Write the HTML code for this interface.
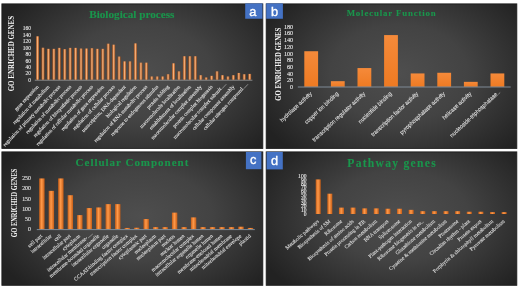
<!DOCTYPE html>
<html><head><meta charset="utf-8"><style>
html,body{margin:0;padding:0;background:#fff;}
body{width:520px;height:288px;overflow:hidden;font-family:"Liberation Sans",sans-serif;}
svg{display:block;will-change:transform;}
</style></head><body>
<svg width="520" height="288" viewBox="0 0 520 288">
<defs>
<radialGradient id="bg" cx="0.53" cy="0.48" r="0.5" gradientTransform="translate(0.53 0.48) scale(1.22 1.5) translate(-0.53 -0.48)">
  <stop offset="0" stop-color="#4e4e4e"/>
  <stop offset="0.45" stop-color="#434343"/>
  <stop offset="1" stop-color="#222222"/>
</radialGradient>
<linearGradient id="cyl" x1="0" x2="1" y1="0" y2="0">
  <stop offset="0" stop-color="#8e4516"/>
  <stop offset="0.5" stop-color="#f6b07a"/>
  <stop offset="1" stop-color="#9a4c1a"/>
</linearGradient>
<linearGradient id="cyl2" x1="0" x2="1" y1="0" y2="0">
  <stop offset="0" stop-color="#c65d16"/>
  <stop offset="0.45" stop-color="#ff9a4a"/>
  <stop offset="1" stop-color="#c65d16"/>
</linearGradient>
<linearGradient id="flat" x1="0" x2="0" y1="0" y2="1">
  <stop offset="0" stop-color="#f58a3a"/>
  <stop offset="1" stop-color="#ee7a22"/>
</linearGradient>
</defs>
<rect x="1.9" y="3.9" width="260.9" height="144.5" fill="url(#bg)" stroke="#1c1c1c" stroke-width="0.9"/>
<rect x="266.2" y="3.9" width="250.6" height="144.5" fill="url(#bg)" stroke="#1c1c1c" stroke-width="0.9"/>
<rect x="1.9" y="151.9" width="260.9" height="133.4" fill="url(#bg)" stroke="#1c1c1c" stroke-width="0.9"/>
<rect x="266.2" y="151.9" width="250.6" height="133.4" fill="url(#bg)" stroke="#1c1c1c" stroke-width="0.9"/>
<rect x="245.2" y="3.4" width="17.3" height="15.35" fill="#4472c4"/>
<text x="252.85" y="15.6" font-family="Liberation Sans" font-size="12.8" fill="#fff" stroke="#fff" stroke-width="0.35" text-anchor="middle">a</text>
<rect x="266.2" y="3.4" width="16.7" height="15.35" fill="#4472c4"/>
<text x="274.5" y="15.6" font-family="Liberation Sans" font-size="12.8" fill="#fff" stroke="#fff" stroke-width="0.35" text-anchor="middle">b</text>
<rect x="245.9" y="151.9" width="15.5" height="17.3" fill="#4472c4"/>
<text x="253.2" y="164.1" font-family="Liberation Sans" font-size="12.8" fill="#fff" stroke="#fff" stroke-width="0.35" text-anchor="middle">c</text>
<rect x="266.6" y="151.9" width="16.2" height="17.5" fill="#4472c4"/>
<text x="274.6" y="164.9" font-family="Liberation Sans" font-size="12.8" fill="#fff" stroke="#fff" stroke-width="0.35" text-anchor="middle">d</text>
<text x="89.2" y="18.0" font-family="Liberation Serif" font-weight="bold" font-size="11.2" letter-spacing="0" fill="#1a964c" stroke="#1a964c" stroke-width="0.12">Biological process</text>
<text x="346.7" y="16.2" font-family="Liberation Serif" font-weight="bold" font-size="8.8" letter-spacing="0.86" fill="#1a964c" stroke="#1a964c" stroke-width="0.12">Molecular Function</text>
<text x="75.6" y="166.0" font-family="Liberation Serif" font-weight="bold" font-size="11.0" letter-spacing="0.98" fill="#1a964c" stroke="#1a964c" stroke-width="0.12">Cellular Component</text>
<text x="347.3" y="167.0" font-family="Liberation Serif" font-weight="bold" font-size="11.6" letter-spacing="1.27" fill="#1a964c" stroke="#1a964c" stroke-width="0.12">Pathway genes</text>
<text transform="translate(11.4,53.65) rotate(-90) scale(0.893,1)" font-family="Liberation Serif" font-weight="bold" font-size="7.8" fill="#f7f7f7" text-anchor="middle" dominant-baseline="central">GO ENRICHED GENES</text>
<text transform="translate(279.3,64.15) rotate(-90) scale(0.865,1)" font-family="Liberation Serif" font-weight="bold" font-size="7.8" fill="#f7f7f7" text-anchor="middle" dominant-baseline="central">GO ENRICHED GENES</text>
<text transform="translate(14.4,203.1) rotate(-90) scale(0.833,1)" font-family="Liberation Serif" font-weight="bold" font-size="7.6" fill="#f7f7f7" text-anchor="middle" dominant-baseline="central">GO ENRICHED GENES</text>
<text x="31.0" y="81.82" font-family="Liberation Serif" font-size="5.5" fill="#eeeeee" stroke="#eeeeee" stroke-width="0.08" text-anchor="end">0</text>
<text x="31.0" y="75.39" font-family="Liberation Serif" font-size="5.5" fill="#eeeeee" stroke="#eeeeee" stroke-width="0.08" text-anchor="end">20</text>
<text x="31.0" y="68.96" font-family="Liberation Serif" font-size="5.5" fill="#eeeeee" stroke="#eeeeee" stroke-width="0.08" text-anchor="end">40</text>
<text x="31.0" y="62.53" font-family="Liberation Serif" font-size="5.5" fill="#eeeeee" stroke="#eeeeee" stroke-width="0.08" text-anchor="end">60</text>
<text x="31.0" y="56.10" font-family="Liberation Serif" font-size="5.5" fill="#eeeeee" stroke="#eeeeee" stroke-width="0.08" text-anchor="end">80</text>
<text x="31.0" y="49.67" font-family="Liberation Serif" font-size="5.5" fill="#eeeeee" stroke="#eeeeee" stroke-width="0.08" text-anchor="end">100</text>
<text x="31.0" y="43.24" font-family="Liberation Serif" font-size="5.5" fill="#eeeeee" stroke="#eeeeee" stroke-width="0.08" text-anchor="end">120</text>
<text x="31.0" y="36.81" font-family="Liberation Serif" font-size="5.5" fill="#eeeeee" stroke="#eeeeee" stroke-width="0.08" text-anchor="end">140</text>
<text x="31.0" y="30.38" font-family="Liberation Serif" font-size="5.5" fill="#eeeeee" stroke="#eeeeee" stroke-width="0.08" text-anchor="end">160</text>
<text x="293.2" y="89.01" font-family="Liberation Serif" font-size="6.2" fill="#eeeeee" stroke="#eeeeee" stroke-width="0.08" text-anchor="end">0</text>
<text x="293.2" y="82.31" font-family="Liberation Serif" font-size="6.2" fill="#eeeeee" stroke="#eeeeee" stroke-width="0.08" text-anchor="end">20</text>
<text x="293.2" y="75.61" font-family="Liberation Serif" font-size="6.2" fill="#eeeeee" stroke="#eeeeee" stroke-width="0.08" text-anchor="end">40</text>
<text x="293.2" y="68.91" font-family="Liberation Serif" font-size="6.2" fill="#eeeeee" stroke="#eeeeee" stroke-width="0.08" text-anchor="end">60</text>
<text x="293.2" y="62.21" font-family="Liberation Serif" font-size="6.2" fill="#eeeeee" stroke="#eeeeee" stroke-width="0.08" text-anchor="end">80</text>
<text x="293.2" y="55.51" font-family="Liberation Serif" font-size="6.2" fill="#eeeeee" stroke="#eeeeee" stroke-width="0.08" text-anchor="end">100</text>
<text x="293.2" y="48.81" font-family="Liberation Serif" font-size="6.2" fill="#eeeeee" stroke="#eeeeee" stroke-width="0.08" text-anchor="end">120</text>
<text x="293.2" y="42.11" font-family="Liberation Serif" font-size="6.2" fill="#eeeeee" stroke="#eeeeee" stroke-width="0.08" text-anchor="end">140</text>
<text x="293.2" y="35.41" font-family="Liberation Serif" font-size="6.2" fill="#eeeeee" stroke="#eeeeee" stroke-width="0.08" text-anchor="end">160</text>
<text x="293.2" y="28.71" font-family="Liberation Serif" font-size="6.2" fill="#eeeeee" stroke="#eeeeee" stroke-width="0.08" text-anchor="end">180</text>
<text x="31.0" y="231.41" font-family="Liberation Serif" font-size="5.9" fill="#eeeeee" stroke="#eeeeee" stroke-width="0.08" text-anchor="end">0</text>
<text x="31.0" y="221.11" font-family="Liberation Serif" font-size="5.9" fill="#eeeeee" stroke="#eeeeee" stroke-width="0.08" text-anchor="end">50</text>
<text x="31.0" y="210.81" font-family="Liberation Serif" font-size="5.9" fill="#eeeeee" stroke="#eeeeee" stroke-width="0.08" text-anchor="end">100</text>
<text x="31.0" y="200.51" font-family="Liberation Serif" font-size="5.9" fill="#eeeeee" stroke="#eeeeee" stroke-width="0.08" text-anchor="end">150</text>
<text x="31.0" y="190.21" font-family="Liberation Serif" font-size="5.9" fill="#eeeeee" stroke="#eeeeee" stroke-width="0.08" text-anchor="end">200</text>
<text x="31.0" y="179.91" font-family="Liberation Serif" font-size="5.9" fill="#eeeeee" stroke="#eeeeee" stroke-width="0.08" text-anchor="end">250</text>
<text x="306.5" y="216.00" font-family="Liberation Serif" font-size="5.6" fill="#eeeeee" stroke="#eeeeee" stroke-width="0.08" text-anchor="end">0</text>
<text x="306.5" y="212.21" font-family="Liberation Serif" font-size="5.6" fill="#eeeeee" stroke="#eeeeee" stroke-width="0.08" text-anchor="end">10</text>
<text x="306.5" y="208.42" font-family="Liberation Serif" font-size="5.6" fill="#eeeeee" stroke="#eeeeee" stroke-width="0.08" text-anchor="end">20</text>
<text x="306.5" y="204.63" font-family="Liberation Serif" font-size="5.6" fill="#eeeeee" stroke="#eeeeee" stroke-width="0.08" text-anchor="end">30</text>
<text x="306.5" y="200.84" font-family="Liberation Serif" font-size="5.6" fill="#eeeeee" stroke="#eeeeee" stroke-width="0.08" text-anchor="end">40</text>
<text x="306.5" y="197.05" font-family="Liberation Serif" font-size="5.6" fill="#eeeeee" stroke="#eeeeee" stroke-width="0.08" text-anchor="end">50</text>
<text x="306.5" y="193.26" font-family="Liberation Serif" font-size="5.6" fill="#eeeeee" stroke="#eeeeee" stroke-width="0.08" text-anchor="end">60</text>
<text x="306.5" y="189.47" font-family="Liberation Serif" font-size="5.6" fill="#eeeeee" stroke="#eeeeee" stroke-width="0.08" text-anchor="end">70</text>
<text x="306.5" y="185.68" font-family="Liberation Serif" font-size="5.6" fill="#eeeeee" stroke="#eeeeee" stroke-width="0.08" text-anchor="end">80</text>
<text x="306.5" y="181.89" font-family="Liberation Serif" font-size="5.6" fill="#eeeeee" stroke="#eeeeee" stroke-width="0.08" text-anchor="end">90</text>
<text x="306.5" y="178.10" font-family="Liberation Serif" font-size="5.6" fill="#eeeeee" stroke="#eeeeee" stroke-width="0.08" text-anchor="end">100</text>
<line x1="34.8" x2="252.4" y1="80.2" y2="80.2" stroke="#8c8c8c" stroke-width="1"/>
<rect x="36.00" y="36.30" width="3.0" height="43.40" fill="url(#cyl)"/>
<rect x="41.44" y="47.71" width="3.0" height="31.99" fill="url(#cyl)"/>
<rect x="46.88" y="48.84" width="3.0" height="30.86" fill="url(#cyl)"/>
<rect x="52.32" y="48.84" width="3.0" height="30.86" fill="url(#cyl)"/>
<rect x="57.76" y="47.87" width="3.0" height="31.83" fill="url(#cyl)"/>
<rect x="63.20" y="49.16" width="3.0" height="30.54" fill="url(#cyl)"/>
<rect x="68.64" y="47.87" width="3.0" height="31.83" fill="url(#cyl)"/>
<rect x="74.08" y="47.87" width="3.0" height="31.83" fill="url(#cyl)"/>
<rect x="79.52" y="48.51" width="3.0" height="31.19" fill="url(#cyl)"/>
<rect x="84.96" y="48.51" width="3.0" height="31.19" fill="url(#cyl)"/>
<rect x="90.40" y="48.19" width="3.0" height="31.51" fill="url(#cyl)"/>
<rect x="95.84" y="48.84" width="3.0" height="30.86" fill="url(#cyl)"/>
<rect x="101.28" y="48.84" width="3.0" height="30.86" fill="url(#cyl)"/>
<rect x="106.72" y="43.69" width="3.0" height="36.01" fill="url(#cyl)"/>
<rect x="112.16" y="44.66" width="3.0" height="35.04" fill="url(#cyl)"/>
<rect x="117.60" y="56.55" width="3.0" height="23.15" fill="url(#cyl)"/>
<rect x="123.04" y="61.37" width="3.0" height="18.33" fill="url(#cyl)"/>
<rect x="128.48" y="61.37" width="3.0" height="18.33" fill="url(#cyl)"/>
<rect x="133.92" y="43.37" width="3.0" height="36.33" fill="url(#cyl)"/>
<rect x="139.36" y="62.66" width="3.0" height="17.04" fill="url(#cyl)"/>
<rect x="144.80" y="62.66" width="3.0" height="17.04" fill="url(#cyl)"/>
<rect x="150.24" y="76.48" width="3.0" height="3.21" fill="url(#cyl)"/>
<rect x="155.68" y="76.48" width="3.0" height="3.21" fill="url(#cyl)"/>
<rect x="161.12" y="76.48" width="3.0" height="3.21" fill="url(#cyl)"/>
<rect x="166.56" y="74.23" width="3.0" height="5.47" fill="url(#cyl)"/>
<rect x="172.00" y="63.30" width="3.0" height="16.40" fill="url(#cyl)"/>
<rect x="177.44" y="71.34" width="3.0" height="8.36" fill="url(#cyl)"/>
<rect x="182.88" y="56.23" width="3.0" height="23.47" fill="url(#cyl)"/>
<rect x="188.32" y="56.23" width="3.0" height="23.47" fill="url(#cyl)"/>
<rect x="193.76" y="56.23" width="3.0" height="23.47" fill="url(#cyl)"/>
<rect x="199.20" y="75.20" width="3.0" height="4.50" fill="url(#cyl)"/>
<rect x="204.64" y="77.45" width="3.0" height="2.25" fill="url(#cyl)"/>
<rect x="210.08" y="75.84" width="3.0" height="3.86" fill="url(#cyl)"/>
<rect x="215.52" y="71.34" width="3.0" height="8.36" fill="url(#cyl)"/>
<rect x="220.96" y="75.20" width="3.0" height="4.50" fill="url(#cyl)"/>
<rect x="226.40" y="76.48" width="3.0" height="3.21" fill="url(#cyl)"/>
<rect x="231.84" y="75.20" width="3.0" height="4.50" fill="url(#cyl)"/>
<rect x="237.28" y="72.95" width="3.0" height="6.75" fill="url(#cyl)"/>
<rect x="242.72" y="74.23" width="3.0" height="5.47" fill="url(#cyl)"/>
<rect x="248.16" y="73.91" width="3.0" height="5.79" fill="url(#cyl)"/>
<text transform="translate(38.90,87.10) rotate(-47) scale(1.0,1)" font-family="Liberation Serif" font-size="5.1" fill="#ececec" stroke="#ececec" stroke-width="0.09" text-anchor="end">gene expression</text>
<text transform="translate(49.78,87.10) rotate(-47) scale(1.0,1)" font-family="Liberation Serif" font-size="5.1" fill="#ececec" stroke="#ececec" stroke-width="0.09" text-anchor="end">regulation of metabolism</text>
<text transform="translate(60.66,87.10) rotate(-47) scale(1.0,1)" font-family="Liberation Serif" font-size="5.1" fill="#ececec" stroke="#ececec" stroke-width="0.09" text-anchor="end">regulation of primary metabolic process</text>
<text transform="translate(71.54,87.10) rotate(-47) scale(1.0,1)" font-family="Liberation Serif" font-size="5.1" fill="#ececec" stroke="#ececec" stroke-width="0.09" text-anchor="end">regulation of metabolic process</text>
<text transform="translate(82.42,87.10) rotate(-47) scale(1.0,1)" font-family="Liberation Serif" font-size="5.1" fill="#ececec" stroke="#ececec" stroke-width="0.09" text-anchor="end">regulation of biosynthetic process</text>
<text transform="translate(93.30,87.10) rotate(-47) scale(1.0,1)" font-family="Liberation Serif" font-size="5.1" fill="#ececec" stroke="#ececec" stroke-width="0.09" text-anchor="end">regulation of cellular metabolic process</text>
<text transform="translate(104.18,87.10) rotate(-47) scale(1.0,1)" font-family="Liberation Serif" font-size="5.1" fill="#ececec" stroke="#ececec" stroke-width="0.09" text-anchor="end">regulation of gene expression</text>
<text transform="translate(115.06,87.10) rotate(-47) scale(1.0,1)" font-family="Liberation Serif" font-size="5.1" fill="#ececec" stroke="#ececec" stroke-width="0.09" text-anchor="end">regulation of cellular process</text>
<text transform="translate(125.94,87.10) rotate(-47) scale(1.0,1)" font-family="Liberation Serif" font-size="5.1" fill="#ececec" stroke="#ececec" stroke-width="0.09" text-anchor="end">transcription, DNA-dependent</text>
<text transform="translate(136.82,87.10) rotate(-47) scale(1.0,1)" font-family="Liberation Serif" font-size="5.1" fill="#ececec" stroke="#ececec" stroke-width="0.09" text-anchor="end">biological regulation</text>
<text transform="translate(147.70,87.10) rotate(-47) scale(1.0,1)" font-family="Liberation Serif" font-size="5.1" fill="#ececec" stroke="#ececec" stroke-width="0.09" text-anchor="end">regulation of RNA metabolic process</text>
<text transform="translate(158.58,87.10) rotate(-47) scale(1.0,1)" font-family="Liberation Serif" font-size="5.1" fill="#ececec" stroke="#ececec" stroke-width="0.09" text-anchor="end">response to endogenous stimulus</text>
<text transform="translate(169.46,87.10) rotate(-47) scale(1.0,1)" font-family="Liberation Serif" font-size="5.1" fill="#ececec" stroke="#ececec" stroke-width="0.09" text-anchor="end">protein folding</text>
<text transform="translate(180.34,87.10) rotate(-47) scale(1.0,1)" font-family="Liberation Serif" font-size="5.1" fill="#ececec" stroke="#ececec" stroke-width="0.09" text-anchor="end">macromolecule localization</text>
<text transform="translate(191.22,87.10) rotate(-47) scale(1.0,1)" font-family="Liberation Serif" font-size="5.1" fill="#ececec" stroke="#ececec" stroke-width="0.09" text-anchor="end">establishment of localization</text>
<text transform="translate(202.10,87.10) rotate(-47) scale(1.0,1)" font-family="Liberation Serif" font-size="5.1" fill="#ececec" stroke="#ececec" stroke-width="0.09" text-anchor="end">macromolecular complex assembly</text>
<text transform="translate(212.98,87.10) rotate(-47) scale(1.0,1)" font-family="Liberation Serif" font-size="5.1" fill="#ececec" stroke="#ececec" stroke-width="0.09" text-anchor="end">protein complex biogenesis</text>
<text transform="translate(221.81,89.29) rotate(-47) scale(1.0,1)" font-family="Liberation Serif" font-size="5.1" fill="#ececec" stroke="#ececec" stroke-width="0.09" text-anchor="end">macromolecular complex subunit</text>
<line x1="222.09" y1="88.70" x2="226.25" y2="84.24" stroke="#cfcfcf" stroke-width="0.55"/>
<text transform="translate(234.74,87.10) rotate(-47) scale(1.0,1)" font-family="Liberation Serif" font-size="5.1" fill="#ececec" stroke="#ececec" stroke-width="0.09" text-anchor="end">cellular component assembly</text>
<text transform="translate(243.57,89.29) rotate(-47) scale(1.0,1)" font-family="Liberation Serif" font-size="5.1" fill="#ececec" stroke="#ececec" stroke-width="0.09" text-anchor="end">cellular nitrogen compound</text>
<line x1="243.85" y1="88.70" x2="248.01" y2="84.24" stroke="#cfcfcf" stroke-width="0.55"/>
<rect x="304.30" y="51.23" width="13.8" height="35.67" fill="url(#flat)"/>
<rect x="330.90" y="81.18" width="13.8" height="5.72" fill="url(#flat)"/>
<rect x="357.50" y="68.06" width="13.8" height="18.84" fill="url(#flat)"/>
<rect x="384.10" y="35.08" width="13.8" height="51.82" fill="url(#flat)"/>
<rect x="410.70" y="73.44" width="13.8" height="13.46" fill="url(#flat)"/>
<rect x="437.30" y="72.77" width="13.8" height="14.13" fill="url(#flat)"/>
<rect x="463.90" y="81.85" width="13.8" height="5.05" fill="url(#flat)"/>
<rect x="490.50" y="73.44" width="13.8" height="13.46" fill="url(#flat)"/>
<line x1="297.8" x2="510.7" y1="87.0" y2="87.0" stroke="#7f8a96" stroke-width="1"/>
<text transform="translate(312.40,94.30) rotate(-43) scale(0.9,1)" font-family="Liberation Sans" font-size="6.0" fill="#ececec" stroke="#ececec" stroke-width="0.05" text-anchor="end">hydrolase activity</text>
<text transform="translate(339.00,94.30) rotate(-43) scale(0.9,1)" font-family="Liberation Sans" font-size="6.0" fill="#ececec" stroke="#ececec" stroke-width="0.05" text-anchor="end">copper ion binding</text>
<text transform="translate(365.60,94.30) rotate(-43) scale(0.9,1)" font-family="Liberation Sans" font-size="6.0" fill="#ececec" stroke="#ececec" stroke-width="0.05" text-anchor="end">transcription regulator activity</text>
<text transform="translate(392.20,94.30) rotate(-43) scale(0.9,1)" font-family="Liberation Sans" font-size="6.0" fill="#ececec" stroke="#ececec" stroke-width="0.05" text-anchor="end">nucleotide binding</text>
<text transform="translate(418.80,94.30) rotate(-43) scale(0.9,1)" font-family="Liberation Sans" font-size="6.0" fill="#ececec" stroke="#ececec" stroke-width="0.05" text-anchor="end">transcription factor activity</text>
<text transform="translate(445.40,94.30) rotate(-43) scale(0.9,1)" font-family="Liberation Sans" font-size="6.0" fill="#ececec" stroke="#ececec" stroke-width="0.05" text-anchor="end">pyrophosphatase activity</text>
<text transform="translate(472.00,94.30) rotate(-43) scale(0.9,1)" font-family="Liberation Sans" font-size="6.0" fill="#ececec" stroke="#ececec" stroke-width="0.05" text-anchor="end">helicase activity</text>
<text transform="translate(498.01,94.85) rotate(-43) scale(0.9,1)" font-family="Liberation Sans" font-size="6.0" fill="#ececec" stroke="#ececec" stroke-width="0.05" text-anchor="end">nucleoside-triphosphatase</text>
<line x1="498.31" y1="94.27" x2="500.21" y2="92.50" stroke="#cfcfcf" stroke-width="0.55"/>
<rect x="39.20" y="178.43" width="5.4" height="50.97" fill="url(#cyl2)"/>
<rect x="48.68" y="190.86" width="5.4" height="38.54" fill="url(#cyl2)"/>
<rect x="58.16" y="178.43" width="5.4" height="50.97" fill="url(#cyl2)"/>
<rect x="67.64" y="195.21" width="5.4" height="34.19" fill="url(#cyl2)"/>
<rect x="77.12" y="215.10" width="5.4" height="14.30" fill="url(#cyl2)"/>
<rect x="86.60" y="208.06" width="5.4" height="21.34" fill="url(#cyl2)"/>
<rect x="96.08" y="207.44" width="5.4" height="21.96" fill="url(#cyl2)"/>
<rect x="105.56" y="204.12" width="5.4" height="25.28" fill="url(#cyl2)"/>
<rect x="115.04" y="204.12" width="5.4" height="25.28" fill="url(#cyl2)"/>
<rect x="124.52" y="227.95" width="5.4" height="1.45" fill="url(#cyl2)"/>
<rect x="134.00" y="227.74" width="5.4" height="1.66" fill="url(#cyl2)"/>
<rect x="143.48" y="219.04" width="5.4" height="10.36" fill="url(#cyl2)"/>
<rect x="152.96" y="227.12" width="5.4" height="2.28" fill="url(#cyl2)"/>
<rect x="162.44" y="227.12" width="5.4" height="2.28" fill="url(#cyl2)"/>
<rect x="171.92" y="212.62" width="5.4" height="16.78" fill="url(#cyl2)"/>
<rect x="181.40" y="227.12" width="5.4" height="2.28" fill="url(#cyl2)"/>
<rect x="190.88" y="217.38" width="5.4" height="12.02" fill="url(#cyl2)"/>
<rect x="200.36" y="227.12" width="5.4" height="2.28" fill="url(#cyl2)"/>
<rect x="209.84" y="227.12" width="5.4" height="2.28" fill="url(#cyl2)"/>
<rect x="219.32" y="227.12" width="5.4" height="2.28" fill="url(#cyl2)"/>
<rect x="228.80" y="227.12" width="5.4" height="2.28" fill="url(#cyl2)"/>
<rect x="238.28" y="226.71" width="5.4" height="2.69" fill="url(#cyl2)"/>
<rect x="247.76" y="227.95" width="5.4" height="1.45" fill="url(#cyl2)"/>
<line x1="36.8" x2="254.8" y1="229.6" y2="229.6" stroke="#7f8a96" stroke-width="1"/>
<text transform="translate(42.70,236.60) rotate(-40.5) scale(1.0,1)" font-family="Liberation Serif" font-size="5.35" fill="#e2e2e2" stroke="#e2e2e2" stroke-width="0.07" text-anchor="end">cell part</text>
<text transform="translate(52.18,236.60) rotate(-40.5) scale(1.0,1)" font-family="Liberation Serif" font-size="5.35" fill="#e2e2e2" stroke="#e2e2e2" stroke-width="0.07" text-anchor="end">intracellular</text>
<text transform="translate(61.66,236.60) rotate(-40.5) scale(1.0,1)" font-family="Liberation Serif" font-size="5.35" fill="#e2e2e2" stroke="#e2e2e2" stroke-width="0.07" text-anchor="end">cell</text>
<text transform="translate(71.14,236.60) rotate(-40.5) scale(1.0,1)" font-family="Liberation Serif" font-size="5.35" fill="#e2e2e2" stroke="#e2e2e2" stroke-width="0.07" text-anchor="end">intracellular part</text>
<text transform="translate(80.62,236.60) rotate(-40.5) scale(1.0,1)" font-family="Liberation Serif" font-size="5.35" fill="#e2e2e2" stroke="#e2e2e2" stroke-width="0.07" text-anchor="end">cytoplasm</text>
<text transform="translate(87.82,238.55) rotate(-40.5) scale(1.0,1)" font-family="Liberation Serif" font-size="5.35" fill="#e2e2e2" stroke="#e2e2e2" stroke-width="0.07" text-anchor="end">intracellular membrane-</text>
<line x1="88.12" y1="237.99" x2="92.76" y2="234.03" stroke="#cfcfcf" stroke-width="0.55"/>
<text transform="translate(99.58,236.60) rotate(-40.5) scale(1.0,1)" font-family="Liberation Serif" font-size="5.35" fill="#e2e2e2" stroke="#e2e2e2" stroke-width="0.07" text-anchor="end">membrane-bounded organelle</text>
<text transform="translate(109.06,236.60) rotate(-40.5) scale(1.0,1)" font-family="Liberation Serif" font-size="5.35" fill="#e2e2e2" stroke="#e2e2e2" stroke-width="0.07" text-anchor="end">intracellular organelle</text>
<text transform="translate(118.54,236.60) rotate(-40.5) scale(1.0,1)" font-family="Liberation Serif" font-size="5.35" fill="#e2e2e2" stroke="#e2e2e2" stroke-width="0.07" text-anchor="end">organelle</text>
<text transform="translate(128.02,236.60) rotate(-40.5) scale(1.0,1)" font-family="Liberation Serif" font-size="5.35" fill="#e2e2e2" stroke="#e2e2e2" stroke-width="0.07" text-anchor="end">CCAAT-binding factor complex</text>
<text transform="translate(137.50,236.60) rotate(-40.5) scale(1.0,1)" font-family="Liberation Serif" font-size="5.35" fill="#e2e2e2" stroke="#e2e2e2" stroke-width="0.07" text-anchor="end">transcription factor complex</text>
<text transform="translate(146.98,236.60) rotate(-40.5) scale(1.0,1)" font-family="Liberation Serif" font-size="5.35" fill="#e2e2e2" stroke="#e2e2e2" stroke-width="0.07" text-anchor="end">cytoplasmic part</text>
<text transform="translate(156.46,236.60) rotate(-40.5) scale(1.0,1)" font-family="Liberation Serif" font-size="5.35" fill="#e2e2e2" stroke="#e2e2e2" stroke-width="0.07" text-anchor="end">nucleoplasm</text>
<text transform="translate(165.94,236.60) rotate(-40.5) scale(1.0,1)" font-family="Liberation Serif" font-size="5.35" fill="#e2e2e2" stroke="#e2e2e2" stroke-width="0.07" text-anchor="end">nucleoplasm part</text>
<text transform="translate(175.42,236.60) rotate(-40.5) scale(1.0,1)" font-family="Liberation Serif" font-size="5.35" fill="#e2e2e2" stroke="#e2e2e2" stroke-width="0.07" text-anchor="end">nucleus</text>
<text transform="translate(184.90,236.60) rotate(-40.5) scale(1.0,1)" font-family="Liberation Serif" font-size="5.35" fill="#e2e2e2" stroke="#e2e2e2" stroke-width="0.07" text-anchor="end">nuclear lumen</text>
<text transform="translate(194.38,236.60) rotate(-40.5) scale(1.0,1)" font-family="Liberation Serif" font-size="5.35" fill="#e2e2e2" stroke="#e2e2e2" stroke-width="0.07" text-anchor="end">macromolecular complex</text>
<text transform="translate(203.86,236.60) rotate(-40.5) scale(1.0,1)" font-family="Liberation Serif" font-size="5.35" fill="#e2e2e2" stroke="#e2e2e2" stroke-width="0.07" text-anchor="end">intracellular organelle lumen</text>
<text transform="translate(213.34,236.60) rotate(-40.5) scale(1.0,1)" font-family="Liberation Serif" font-size="5.35" fill="#e2e2e2" stroke="#e2e2e2" stroke-width="0.07" text-anchor="end">organelle lumen</text>
<text transform="translate(222.82,236.60) rotate(-40.5) scale(1.0,1)" font-family="Liberation Serif" font-size="5.35" fill="#e2e2e2" stroke="#e2e2e2" stroke-width="0.07" text-anchor="end">membrane-enclosed lumen</text>
<text transform="translate(232.30,236.60) rotate(-40.5) scale(1.0,1)" font-family="Liberation Serif" font-size="5.35" fill="#e2e2e2" stroke="#e2e2e2" stroke-width="0.07" text-anchor="end">mitochondrial membrane</text>
<text transform="translate(241.78,236.60) rotate(-40.5) scale(1.0,1)" font-family="Liberation Serif" font-size="5.35" fill="#e2e2e2" stroke="#e2e2e2" stroke-width="0.07" text-anchor="end">mitochondrial envelope</text>
<text transform="translate(251.26,236.60) rotate(-40.5) scale(1.0,1)" font-family="Liberation Serif" font-size="5.35" fill="#e2e2e2" stroke="#e2e2e2" stroke-width="0.07" text-anchor="end">plastid</text>
<rect x="315.70" y="179.41" width="5.0" height="34.59" fill="url(#cyl2)"/>
<rect x="327.32" y="193.70" width="5.0" height="20.30" fill="url(#cyl2)"/>
<rect x="338.94" y="207.61" width="5.0" height="6.39" fill="url(#cyl2)"/>
<rect x="350.56" y="207.61" width="5.0" height="6.39" fill="url(#cyl2)"/>
<rect x="362.18" y="208.36" width="5.0" height="5.64" fill="url(#cyl2)"/>
<rect x="373.80" y="208.36" width="5.0" height="5.64" fill="url(#cyl2)"/>
<rect x="385.42" y="208.74" width="5.0" height="5.26" fill="url(#cyl2)"/>
<rect x="397.04" y="208.74" width="5.0" height="5.26" fill="url(#cyl2)"/>
<rect x="408.66" y="209.86" width="5.0" height="4.14" fill="url(#cyl2)"/>
<rect x="420.28" y="211.18" width="5.0" height="2.82" fill="url(#cyl2)"/>
<rect x="431.90" y="211.18" width="5.0" height="2.82" fill="url(#cyl2)"/>
<rect x="443.52" y="211.18" width="5.0" height="2.82" fill="url(#cyl2)"/>
<rect x="455.14" y="211.18" width="5.0" height="2.82" fill="url(#cyl2)"/>
<rect x="466.76" y="211.74" width="5.0" height="2.26" fill="url(#cyl2)"/>
<rect x="478.38" y="211.74" width="5.0" height="2.26" fill="url(#cyl2)"/>
<rect x="490.00" y="212.12" width="5.0" height="1.88" fill="url(#cyl2)"/>
<rect x="501.62" y="212.12" width="5.0" height="1.88" fill="url(#cyl2)"/>
<text transform="translate(319.20,221.90) rotate(-41) scale(1.0,1)" font-family="Liberation Serif" font-size="5.25" fill="#e2e2e2" stroke="#e2e2e2" stroke-width="0.07" text-anchor="end">Metabolic pathways</text>
<text transform="translate(330.82,221.90) rotate(-41) scale(1.0,1)" font-family="Liberation Serif" font-size="5.25" fill="#e2e2e2" stroke="#e2e2e2" stroke-width="0.07" text-anchor="end">Biosynthesis of SM</text>
<text transform="translate(342.44,221.90) rotate(-41) scale(1.0,1)" font-family="Liberation Serif" font-size="5.25" fill="#e2e2e2" stroke="#e2e2e2" stroke-width="0.07" text-anchor="end">Ribosome</text>
<text transform="translate(354.06,221.90) rotate(-41) scale(1.0,1)" font-family="Liberation Serif" font-size="5.25" fill="#e2e2e2" stroke="#e2e2e2" stroke-width="0.07" text-anchor="end">Biosynthesis of amino acids</text>
<text transform="translate(365.68,221.90) rotate(-41) scale(1.0,1)" font-family="Liberation Serif" font-size="5.25" fill="#e2e2e2" stroke="#e2e2e2" stroke-width="0.07" text-anchor="end">Protein processing in ER</text>
<text transform="translate(377.30,221.90) rotate(-41) scale(1.0,1)" font-family="Liberation Serif" font-size="5.25" fill="#e2e2e2" stroke="#e2e2e2" stroke-width="0.07" text-anchor="end">Carbon metabolism</text>
<text transform="translate(388.92,221.90) rotate(-41) scale(1.0,1)" font-family="Liberation Serif" font-size="5.25" fill="#e2e2e2" stroke="#e2e2e2" stroke-width="0.07" text-anchor="end">RNA transport</text>
<text transform="translate(400.54,221.90) rotate(-41) scale(1.0,1)" font-family="Liberation Serif" font-size="5.25" fill="#e2e2e2" stroke="#e2e2e2" stroke-width="0.07" text-anchor="end">Spliceosome</text>
<text transform="translate(412.16,221.90) rotate(-41) scale(1.0,1)" font-family="Liberation Serif" font-size="5.25" fill="#e2e2e2" stroke="#e2e2e2" stroke-width="0.07" text-anchor="end">Plant-pathogen interaction</text>
<text transform="translate(423.78,221.90) rotate(-41) scale(1.0,1)" font-family="Liberation Serif" font-size="5.25" fill="#e2e2e2" stroke="#e2e2e2" stroke-width="0.07" text-anchor="end">Ribosome biogenesis in eu..</text>
<text transform="translate(435.40,221.90) rotate(-41) scale(1.0,1)" font-family="Liberation Serif" font-size="5.25" fill="#e2e2e2" stroke="#e2e2e2" stroke-width="0.07" text-anchor="end">Glutathione metabolism</text>
<text transform="translate(447.02,221.90) rotate(-41) scale(1.0,1)" font-family="Liberation Serif" font-size="5.25" fill="#e2e2e2" stroke="#e2e2e2" stroke-width="0.07" text-anchor="end">Cysteine &amp; methionine metabolism</text>
<text transform="translate(458.64,221.90) rotate(-41) scale(1.0,1)" font-family="Liberation Serif" font-size="5.25" fill="#e2e2e2" stroke="#e2e2e2" stroke-width="0.07" text-anchor="end">Proteasome</text>
<text transform="translate(470.26,221.90) rotate(-41) scale(1.0,1)" font-family="Liberation Serif" font-size="5.25" fill="#e2e2e2" stroke="#e2e2e2" stroke-width="0.07" text-anchor="end">Circadian rhythm - plant</text>
<text transform="translate(481.88,221.90) rotate(-41) scale(1.0,1)" font-family="Liberation Serif" font-size="5.25" fill="#e2e2e2" stroke="#e2e2e2" stroke-width="0.07" text-anchor="end">Protein export</text>
<text transform="translate(493.50,221.90) rotate(-41) scale(1.0,1)" font-family="Liberation Serif" font-size="5.25" fill="#e2e2e2" stroke="#e2e2e2" stroke-width="0.07" text-anchor="end">Porphyrin &amp; chlorophyll metabolism</text>
<text transform="translate(505.12,221.90) rotate(-41) scale(1.0,1)" font-family="Liberation Serif" font-size="5.25" fill="#e2e2e2" stroke="#e2e2e2" stroke-width="0.07" text-anchor="end">Pyruvate metabolism</text>
</svg>
</body></html>
